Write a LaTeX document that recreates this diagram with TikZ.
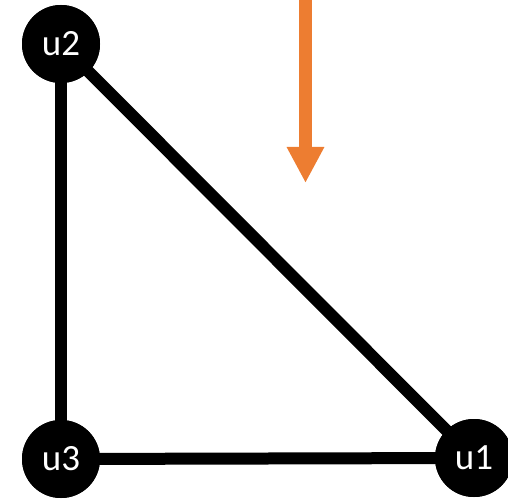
\documentclass[tikz,border=0pt]{standalone}
\usepackage{fontspec}
\setmainfont{Carlito}
\usetikzlibrary{arrows.meta}
\definecolor{arroworange}{HTML}{ED7D31}
\begin{document}
\begin{tikzpicture}[x=1pt,y=1pt,
	vertex/.style={circle,fill=black,text=white,minimum size=78pt,inner sep=0pt,
		font=\fontsize{37}{42}\selectfont},
	edge/.style={line width=12pt,black}]
	
	\useasboundingbox (0,0) rectangle (508,498);
	\node[vertex] (u2) at (61,454) {u2};
	\node[vertex] (u3) at (61,39) {u3};
	\node[vertex] (u1) at (474,40) {u1};
	\draw[edge] (u2.center)--(u3.center);
	\draw[edge] (u3.center)--(u1.center);
	\draw[edge] (u2.center)--(u1.center);
	% redraw the vertices over the edges
	\foreach \v/\t in {u2/u2,u3/u3,u1/u1}\node[vertex] at (\v) {\t};
	\coordinate (top) at (305.5,498);
	\coordinate (tip) at (305.5,315);
	\draw[line width=13pt,arroworange,-{Triangle[width=35pt,length=36pt]}] (top)--(tip);
	
\end{tikzpicture}
\end{document}
